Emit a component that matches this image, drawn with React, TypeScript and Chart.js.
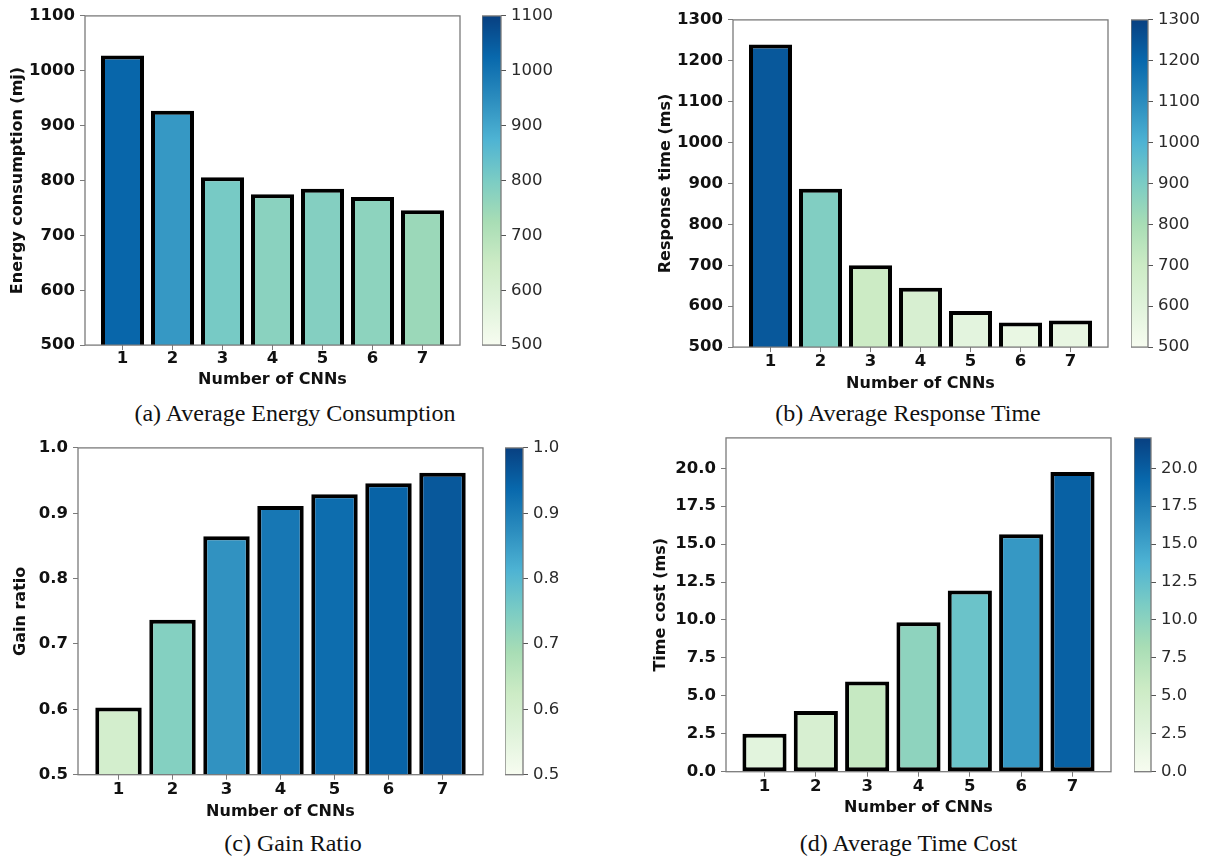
import React, { useEffect, useRef } from "react";
import { Chart, registerables } from "chart.js";

Chart.register(...registerables);

// ---------------- data ----------------
const categories = [1, 2, 3, 4, 5, 6, 7];

const energyValues = [1028, 927, 806, 775, 785, 770, 746];
const responseValues = [1240, 887, 700, 645, 588, 560, 565];
const gainValues = [0.603, 0.737, 0.865, 0.911, 0.929, 0.946, 0.962];
const timeCostValues = [2.5, 4.0, 5.95, 9.85, 11.95, 15.65, 19.75];

const energyTicks = [500, 600, 700, 800, 900, 1000, 1100];
const responseTicks = [500, 600, 700, 800, 900, 1000, 1100, 1200, 1300];
const gainTicks = [0.5, 0.6, 0.7, 0.8, 0.9, 1.0];
const timeCostTicks = [0, 2.5, 5, 7.5, 10, 12.5, 15, 17.5, 20];

const energyRange = [500, 1100];
const responseRange = [500, 1300];
const gainRange = [0.5, 1.0];
const timeCostRange = [0, 22];

// GnBu colormap stops
const GNBU = ["#f7fcf0", "#e0f3db", "#ccebc5", "#a8ddb5", "#7bccc4", "#4eb3d3", "#2b8cbe", "#0868ac", "#084081"];

function hexToRgb(h: string) {
  return [parseInt(h.slice(1, 3), 16), parseInt(h.slice(3, 5), 16), parseInt(h.slice(5, 7), 16)];
}
function gnbu(t: number) {
  const tt = Math.max(0, Math.min(1, t));
  const n = GNBU.length - 1;
  const p = tt * n;
  const i = Math.min(Math.floor(p), n - 1);
  const f = p - i;
  const a = hexToRgb(GNBU[i]);
  const b = hexToRgb(GNBU[i + 1]);
  const c = a.map((v, k) => Math.round(v + (b[k] - v) * f));
  return `rgb(${c[0]},${c[1]},${c[2]})`;
}

const FONT = "'DejaVu Sans', sans-serif";
const SPINE = "#7a7a7a";

const framePlugin = {
  id: "frame",
  afterDatasetsDraw(chart: any) {
    const { ctx, chartArea } = chart;
    const { left, top, right, bottom } = chartArea;
    ctx.save();
    ctx.strokeStyle = SPINE;
    ctx.lineWidth = 1.3;
    ctx.strokeRect(left, top, right - left, bottom - top);
    ctx.restore();
  },
};

type Geo = {
  plotL: number; plotT: number; plotR: number; plotB: number;
  cbL: number; cbR: number; yTitleX: number; xTickY: number; xTitleY: number;
  capX: number; capY: number; originX: number;
};

type PanelProps = {
  values: number[];
  ticks: number[];
  range: number[];
  decimals: number;
  yTitle: string;
  caption: string;
  geo: Geo;
};

function Panel({ values, ticks, range, decimals, yTitle, caption, geo }: PanelProps) {
  const mainRef = useRef<HTMLCanvasElement>(null);
  const cbRef = useRef<HTMLCanvasElement>(null);

  const tickSize = 16.5;
  const titleSize = 16;
  const tlh = tickSize * 1.2;
  const lh = titleSize * 1.2;
  const padTop = 14;
  const canvasLeft = geo.originX;
  const canvasTop = Math.round(geo.plotT) - padTop;
  const yAxisW = geo.plotL - canvasLeft;
  const xAxisH = geo.xTitleY + lh / 2 - geo.plotB;
  const canvasH = Math.round(geo.plotB + xAxisH - canvasTop);
  const canvasW = Math.round(geo.plotR + 4 - canvasLeft);
  const cbAxisW = 75;
  const cbW = Math.round(geo.cbR - geo.cbL + cbAxisW);
  const fmt = (v: any) => Number(v).toFixed(decimals);

  useEffect(() => {
    const norm = (v: number) => (v - range[0]) / (range[1] - range[0]);
    const main = new Chart(mainRef.current as HTMLCanvasElement, {
      type: "bar",
      data: {
        datasets: [
          {
            data: categories.map((c, i) => ({ x: c, y: values[i] })),
            backgroundColor: values.map((v) => gnbu(norm(v))),
            borderColor: "#000",
            borderWidth: 4,
            borderSkipped: false,
            barPercentage: 0.86,
            categoryPercentage: 1,
          } as any,
        ],
      },
      options: {
        responsive: false,
        animation: false,
        layout: { padding: { top: padTop, right: 4, left: 0, bottom: 0 } },
        plugins: { legend: { display: false }, tooltip: { enabled: false } },
        scales: {
          x: {
            type: "linear",
            min: 0.25,
            max: 7.75,
            offset: false,
            afterBuildTicks: (s: any) => {
              s.ticks = categories.map((v) => ({ value: v }));
            },
            afterFit: (s: any) => {
              s.height = xAxisH;
            },
            grid: { display: true, offset: false, drawOnChartArea: false, drawTicks: true, tickLength: 5, color: SPINE },
            border: { display: false },
            ticks: {
              font: { family: FONT, weight: "bold", size: tickSize },
              color: "#111",
              padding: geo.xTickY - geo.plotB - 5 - tlh / 2,
              maxRotation: 0,
              callback: (v: any) => String(v),
            },
            title: {
              display: true,
              text: "Number of CNNs",
              font: { family: FONT, weight: "bold", size: titleSize },
              color: "#111",
              padding: { top: 0, bottom: 0 },
            },
          },
          y: {
            min: range[0],
            max: range[1],
            afterBuildTicks: (s: any) => {
              s.ticks = ticks.map((v) => ({ value: v }));
            },
            afterFit: (s: any) => {
              s.width = yAxisW;
            },
            grid: { display: true, drawOnChartArea: false, drawTicks: true, tickLength: 5, color: SPINE },
            border: { display: false },
            ticks: {
              font: { family: FONT, weight: "bold", size: tickSize },
              color: "#111",
              padding: 5,
              callback: fmt,
            },
            title: {
              display: true,
              text: yTitle,
              font: { family: FONT, weight: "bold", size: titleSize },
              color: "#111",
              padding: { top: geo.yTitleX - canvasLeft - lh / 2, bottom: 0 },
            },
          },
        },
      } as any,
      plugins: [framePlugin],
    });

    const cb = new Chart(cbRef.current as HTMLCanvasElement, {
      type: "bar",
      data: {
        labels: [""],
        datasets: [
          {
            data: [[range[0], range[1]]],
            backgroundColor: (ctx: any) => {
              const ch = ctx.chart;
              const ca = ch.chartArea;
              if (!ca) return "rgba(0,0,0,0)";
              const g = ch.ctx.createLinearGradient(0, ca.bottom, 0, ca.top);
              GNBU.forEach((c, i) => g.addColorStop(i / (GNBU.length - 1), c));
              return g;
            },
            borderWidth: 0,
            barPercentage: 1,
            categoryPercentage: 1,
          } as any,
        ],
      },
      options: {
        responsive: false,
        animation: false,
        layout: { padding: { top: padTop, right: 0, left: 0, bottom: xAxisH } },
        plugins: { legend: { display: false }, tooltip: { enabled: false } },
        scales: {
          x: { display: false },
          y: {
            position: "right",
            min: range[0],
            max: range[1],
            afterBuildTicks: (s: any) => {
              s.ticks = ticks.map((v) => ({ value: v }));
            },
            afterFit: (s: any) => {
              s.width = cbAxisW;
            },
            grid: { display: true, drawOnChartArea: false, drawTicks: true, tickLength: 5, color: "#555" },
            border: { display: false },
            ticks: {
              font: { family: FONT, size: tickSize },
              color: "#2a2a2a",
              padding: 5,
              callback: fmt,
            },
          },
        },
      } as any,
      plugins: [framePlugin],
    });

    return () => {
      main.destroy();
      cb.destroy();
    };
  }, []);

  return (
    <>
      <canvas
        ref={mainRef}
        width={canvasW}
        height={canvasH}
        style={{ position: "absolute", left: canvasLeft, top: canvasTop, width: canvasW, height: canvasH }}
      />
      <canvas
        ref={cbRef}
        width={cbW}
        height={canvasH}
        style={{ position: "absolute", left: Math.round(geo.cbL), top: canvasTop, width: cbW, height: canvasH }}
      />
      <div
        style={{
          position: "absolute",
          left: geo.capX - 250,
          width: 500,
          top: geo.capY - 14,
          height: 28,
          lineHeight: "28px",
          textAlign: "center",
          fontFamily: "'Liberation Serif', 'Times New Roman', serif",
          fontSize: 24,
          color: "#111",
          whiteSpace: "nowrap",
        }}
      >
        {caption}
      </div>
    </>
  );
}

const geoA: Geo = { originX: 0, plotL: 85, plotT: 15, plotR: 460, plotB: 345, cbL: 482, cbR: 501, yTitleX: 17.5, xTickY: 358.3, xTitleY: 379.3, capX: 295, capY: 413 };
const geoB: Geo = { originX: 600, plotL: 733, plotT: 19, plotR: 1108, plotB: 347, cbL: 1131, cbR: 1148, yTitleX: 666, xTickY: 361.7, xTitleY: 383.3, capX: 908, capY: 413 };
const geoC: Geo = { originX: 0, plotL: 78, plotT: 447, plotR: 483, plotB: 775, cbL: 505, cbR: 523, yTitleX: 21, xTickY: 790, xTitleY: 811.7, capX: 293, capY: 843 };
const geoD: Geo = { originX: 600, plotL: 726, plotT: 437, plotR: 1111, plotB: 772, cbL: 1134, cbR: 1151, yTitleX: 661, xTickY: 786.7, xTitleY: 807.7, capX: 908.5, capY: 843 };

export default function App() {
  return (
    <div style={{ position: "absolute", left: 0, top: 0, width: 1205, height: 860, background: "#fff", overflow: "hidden" }}>
      <Panel values={energyValues} ticks={energyTicks} range={energyRange} decimals={0} yTitle="Energy consumption (mj)" caption="(a) Average Energy Consumption" geo={geoA} />
      <Panel values={responseValues} ticks={responseTicks} range={responseRange} decimals={0} yTitle="Response time (ms)" caption="(b) Average Response Time" geo={geoB} />
      <Panel values={gainValues} ticks={gainTicks} range={gainRange} decimals={1} yTitle="Gain ratio" caption="(c) Gain Ratio" geo={geoC} />
      <Panel values={timeCostValues} ticks={timeCostTicks} range={timeCostRange} decimals={1} yTitle="Time cost (ms)" caption="(d) Average Time Cost" geo={geoD} />
    </div>
  );
}
